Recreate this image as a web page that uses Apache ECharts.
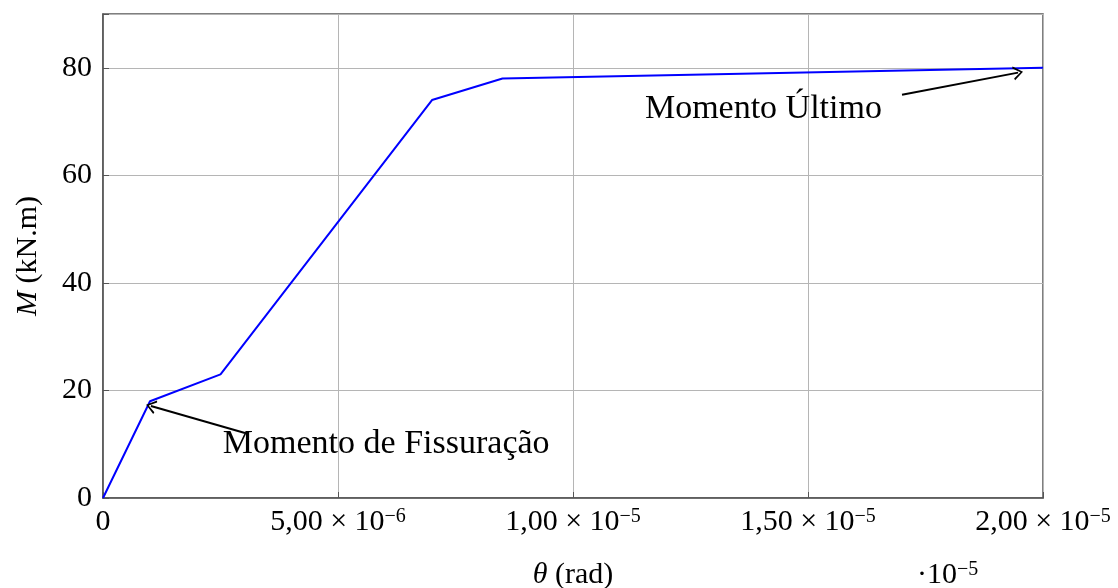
<!DOCTYPE html>
<html>
<head>
<meta charset="utf-8">
<script src="https://cdn.jsdelivr.net/npm/echarts@6/dist/echarts.min.js"></script>
<style>
html,body{margin:0;padding:0;background:#fff;}
#chart{width:1118px;height:588px;}
</style>
</head>
<body>
<div id="chart"></div>
<script>
// curva momento x rotação
var thetaVals = [0, 1.0e-6, 2.5e-6, 7.0e-6, 8.5e-6, 2.0e-5];
var momentVals = [0, 18, 23, 74, 78, 80];

var xTickMant = ['0', '5,00', '1,00', '1,50', '2,00'];
var xTickExp = ['', '−6', '−5', '−5', '−5'];
var yTickLabels = ['0', '20', '40', '60', '80'];

// anotações (coordenadas nos eixos)
var noteText = ['Momento de Fissuração', 'Momento Último'];
var noteAt = [[2.55e-6, 10.0], [1.153e-5, 72.4]];
var arrowFrom = [[3.02e-6, 12.1], [1.70e-5, 75.0]];
var arrowTo = [[1.02e-6, 17.1], [1.947e-5, 79.1]];

var font = 'Liberation Serif';
var chevron = 'path://M0,10 L5,0 L10,10 L8.6,10.7 L5,2.8 L1.4,10.7 Z';

var myChart = echarts.init(document.getElementById('chart'));

var option = {
    backgroundColor: '#fff',
    animation: false,
    grid: {
        left: 103,
        right: 75,
        top: 14,
        bottom: 90,
        outerBoundsMode: 'none',
        containLabel: false,
        show: true,
        borderColor: '#555',
        borderWidth: 1.5,
        backgroundColor: 'transparent'
    },
    xAxis: {
        type: 'value',
        min: 0,
        max: 2e-5,
        interval: 5e-6,
        name: '{i|θ}{n| (rad)}',
        nameLocation: 'middle',
        nameGap: 62,
        nameTextStyle: {
            rich: {
                i: {fontFamily: font, fontSize: 30, fontStyle: 'italic', color: '#000'},
                n: {fontFamily: font, fontSize: 30, color: '#000'}
            }
        },
        axisLine: {lineStyle: {color: '#555', width: 1.5}},
        axisTick: {inside: true, length: 6, lineStyle: {color: '#555'}},
        splitLine: {show: true, lineStyle: {color: '#b5b5b5', width: 1}},
        axisLabel: {
            margin: 9,
            formatter: function (v, i) {
                if (!xTickExp[i]) return '{m|' + xTickMant[i] + '}';
                return '{m|' + xTickMant[i] + ' × 10}{e|' + xTickExp[i] + '}';
            },
            rich: {
                m: {fontFamily: font, fontSize: 30, lineHeight: 30, color: '#000'},
                e: {fontFamily: font, fontSize: 20, lineHeight: 18, verticalAlign: 'top', color: '#000'}
            }
        }
    },
    yAxis: {
        type: 'value',
        min: 0,
        max: 90,
        interval: 20,
        name: '{i|M}{n| (kN.m)}',
        nameLocation: 'middle',
        nameGap: 60,
        nameTextStyle: {
            rich: {
                i: {fontFamily: font, fontSize: 30, fontStyle: 'italic', color: '#000'},
                n: {fontFamily: font, fontSize: 30, color: '#000'}
            }
        },
        axisLine: {show: true, lineStyle: {color: '#555', width: 1.5}},
        axisTick: {show: true, inside: true, length: 6, lineStyle: {color: '#555'}},
        splitLine: {show: true, lineStyle: {color: '#b5b5b5', width: 1}},
        axisLabel: {
            margin: 11,
            fontFamily: font,
            fontSize: 30,
            color: '#000',
            formatter: function (v) {
                var s = String(v);
                return yTickLabels.indexOf(s) >= 0 ? s : '';
            }
        }
    },
    graphic: [{
        type: 'text',
        left: 917,
        top: 560,
        style: {
            text: '{a|·10}{b|−5}',
            rich: {
                a: {fontFamily: font, fontSize: 30, lineHeight: 30, fill: '#000', color: '#000'},
                b: {fontFamily: font, fontSize: 20, lineHeight: 18, verticalAlign: 'top', fill: '#000', color: '#000'}
            }
        }
    }],
    series: [{
        type: 'line',
        data: thetaVals.map(function (t, i) { return [t, momentVals[i]]; }),
        showSymbol: false,
        symbol: 'none',
        lineStyle: {color: '#0000ff', width: 2},
        itemStyle: {color: '#0000ff'},
        markLine: {
            silent: true,
            symbol: ['none', chevron],
            symbolSize: [14, 10],
            lineStyle: {color: '#000', width: 2, type: 'solid'},
            label: {show: false},
            data: arrowFrom.map(function (f, i) {
                return [{coord: f}, {coord: arrowTo[i]}];
            })
        },
        markPoint: {
            silent: true,
            symbol: 'circle',
            symbolSize: 0,
            label: {
                show: true,
                position: 'inside',
                align: 'left',
                verticalAlign: 'middle',
                fontFamily: font,
                fontSize: 34,
                color: '#000',
                formatter: function (p) { return p.name; }
            },
            data: noteAt.map(function (c, i) {
                return {name: noteText[i], coord: c};
            })
        }
    }]
};

myChart.setOption(option);
</script>
</body>
</html>
